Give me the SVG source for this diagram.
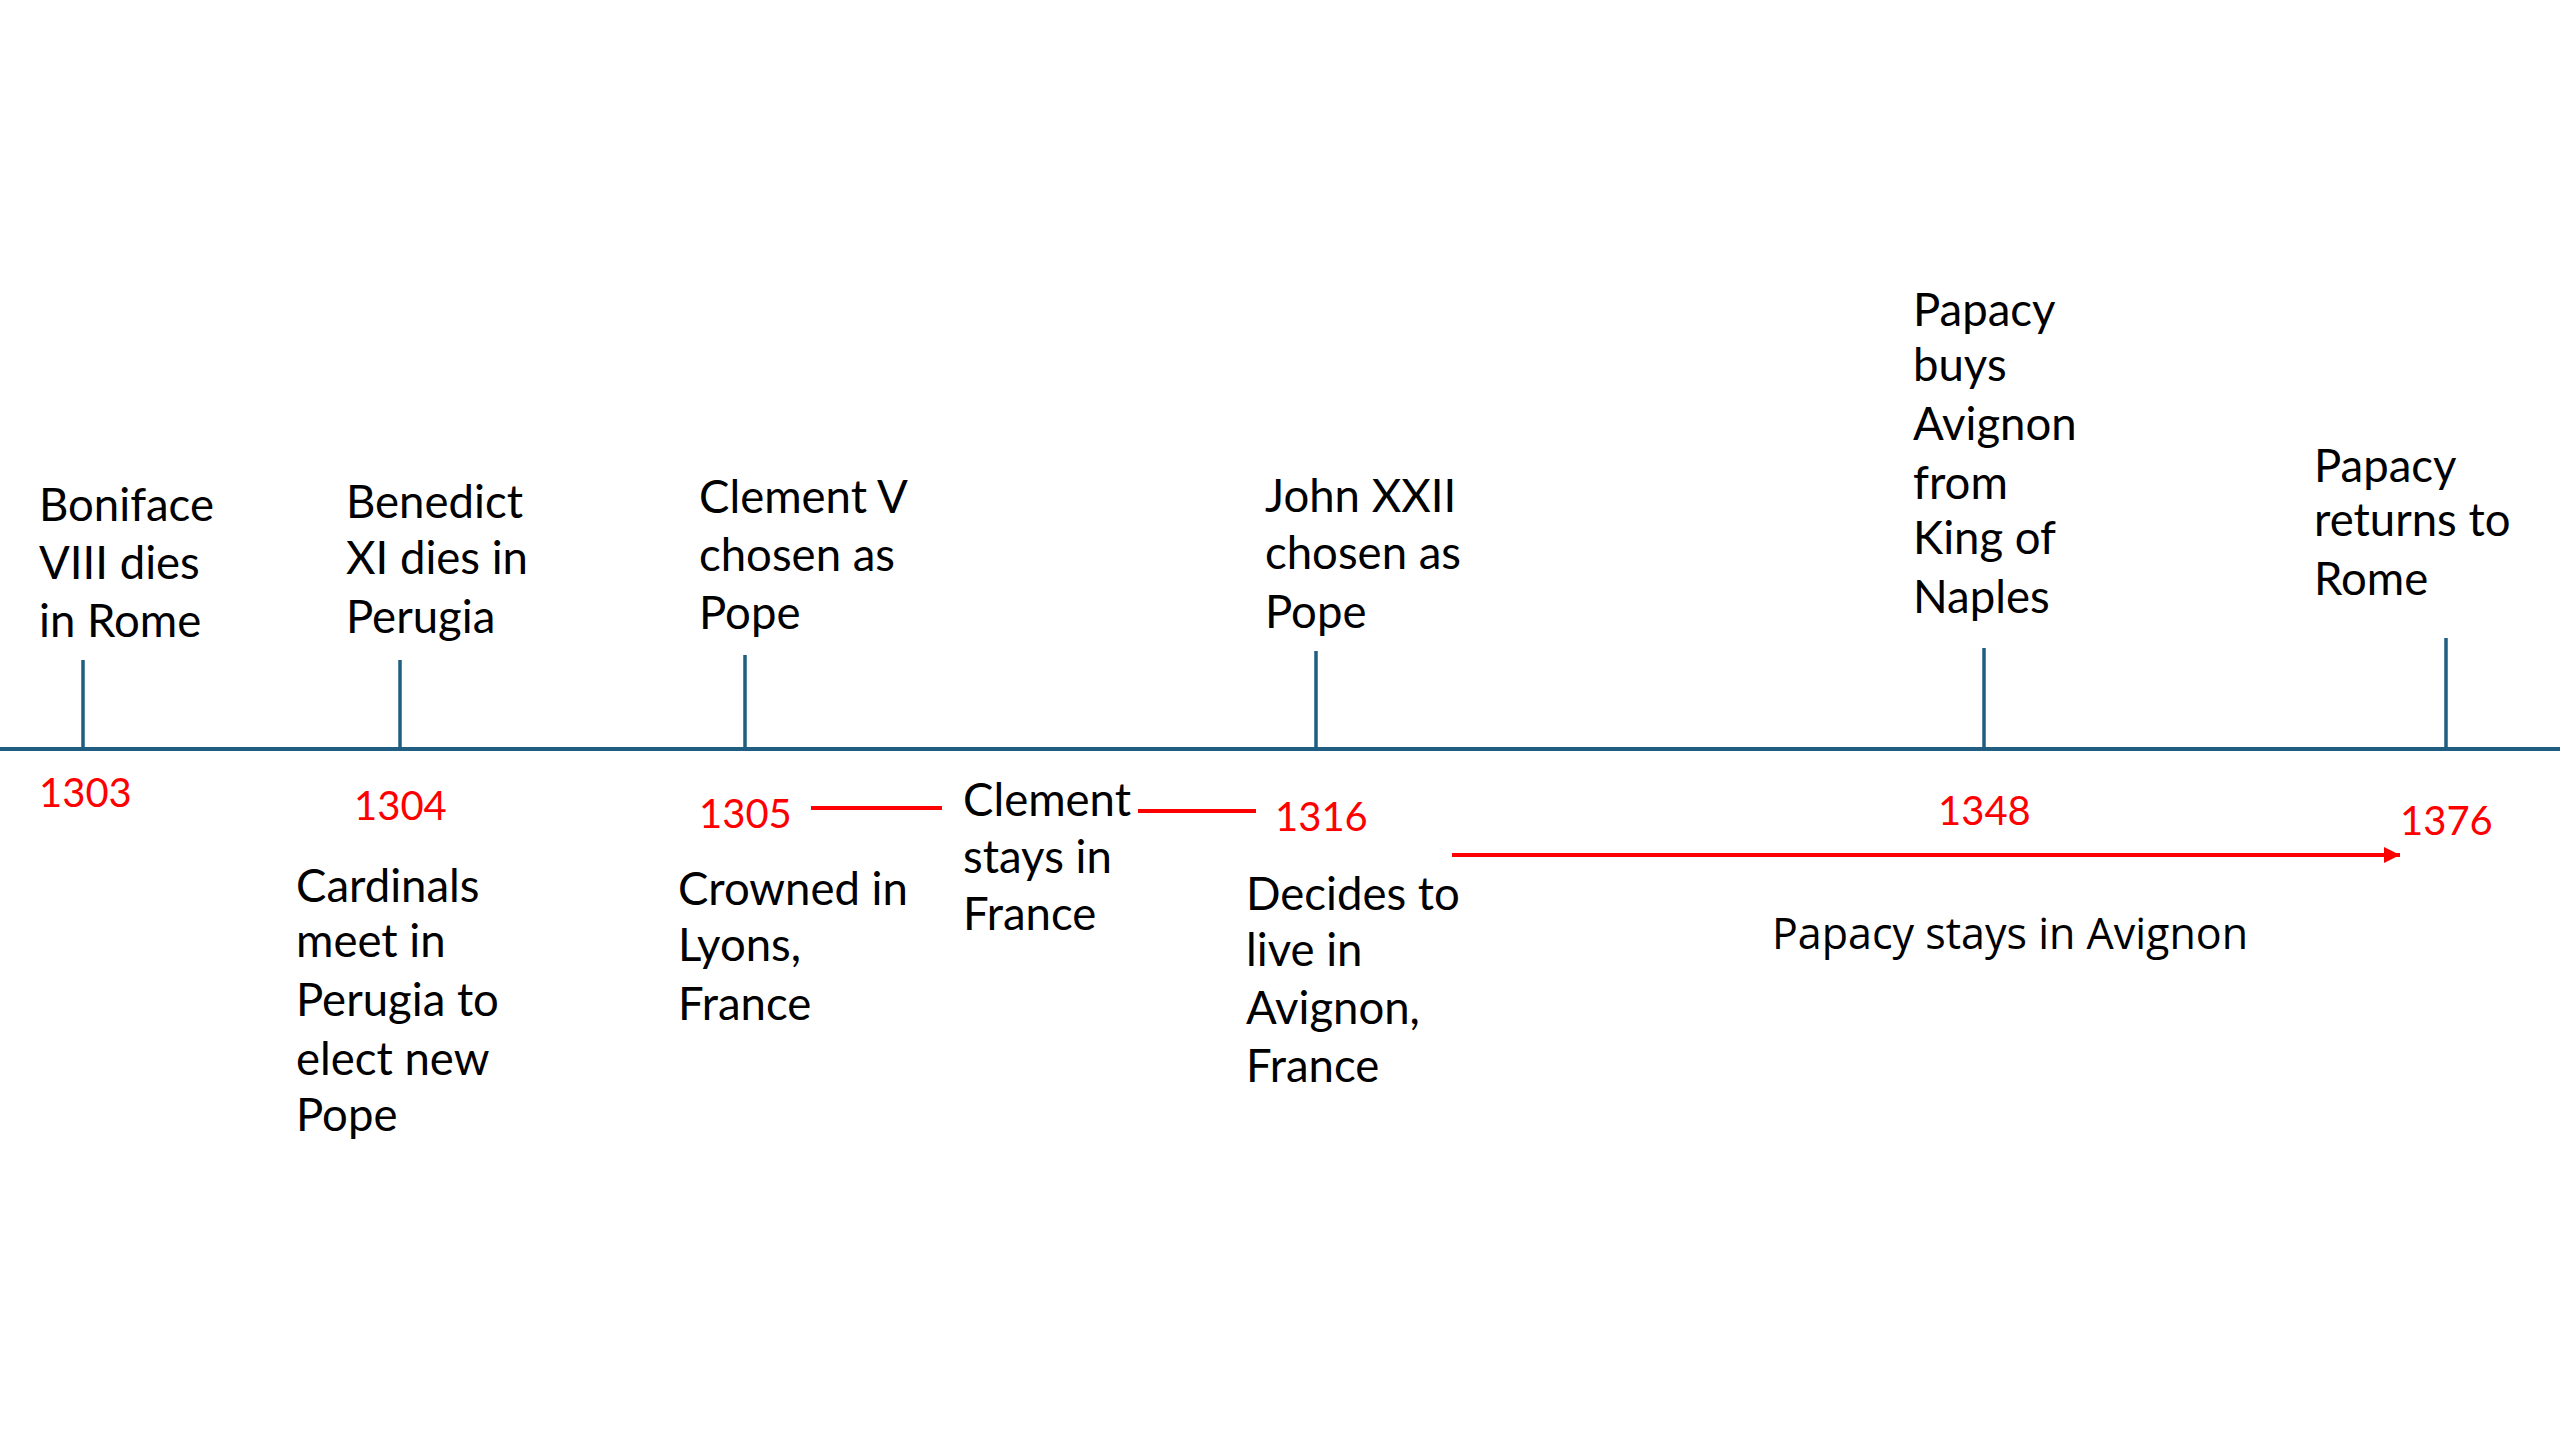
<svg xmlns="http://www.w3.org/2000/svg" width="2560" height="1440" viewBox="0 0 2560 1440">
<style>
.lbl{font-family:Lato,"Open Sans","Liberation Sans",sans-serif;font-size:45.5px;fill:#000}
.yr{font-family:Lato,"Open Sans","Liberation Sans",sans-serif;font-size:40px;fill:#FF0000}
.wide{font-family:"Open Sans","Noto Sans","Liberation Sans",sans-serif;font-size:43px;fill:#000}
.axis{stroke:#1F5E80;stroke-width:4;fill:none}
.tick{stroke:#1F5E80;stroke-width:3.5;fill:none}
.span{stroke:#FF0000;stroke-width:4;fill:none}
</style>
<defs>
<marker id="ah" viewBox="0 0 10 10" refX="10" refY="5" markerWidth="4" markerHeight="4" markerUnits="strokeWidth" orient="auto">
<path d="M0,0 L10,5 L0,10 Z" fill="#FF0000"/>
</marker>
</defs>
<rect width="2560" height="1440" fill="#fff"/>
<g id="connectors">
<line class="axis" x1="0" y1="749" x2="2560" y2="749"/>
<line class="tick" x1="83" y1="660" x2="83" y2="749"/>
<line class="tick" x1="400" y1="660" x2="400" y2="749"/>
<line class="tick" x1="745" y1="655" x2="745" y2="749"/>
<line class="tick" x1="1316" y1="651" x2="1316" y2="749"/>
<line class="tick" x1="1984" y1="648" x2="1984" y2="749"/>
<line class="tick" x1="2446" y1="638" x2="2446" y2="749"/>
<line class="span" x1="811" y1="808" x2="942" y2="808"/>
<line class="span" x1="1138" y1="811" x2="1256" y2="811"/>
<line class="span" x1="1452" y1="855" x2="2400" y2="855" marker-end="url(#ah)"/>
</g>
<g id="ev1303">
<text class="lbl" x="39" y="521">Boniface</text>
<text class="lbl" x="39" y="579">VIII dies</text>
<text class="lbl" x="39" y="637">in Rome</text>
<text class="yr" x="39" y="807">1303</text>
</g>
<g id="ev1304">
<text class="lbl" x="346" y="518">Benedict</text>
<text class="lbl" x="346" y="574">XI dies in</text>
<text class="lbl" x="346" y="633">Perugia</text>
<text class="yr" x="354" y="820">1304</text>
<text class="lbl" x="296" y="902">Cardinals</text>
<text class="lbl" x="296" y="957">meet in</text>
<text class="lbl" x="296" y="1016">Perugia to</text>
<text class="lbl" x="296" y="1075">elect new</text>
<text class="lbl" x="296" y="1131">Pope</text>
</g>
<g id="ev1305">
<text class="lbl" x="699" y="513">Clement V</text>
<text class="lbl" x="699" y="571">chosen as</text>
<text class="lbl" x="699" y="629">Pope</text>
<text class="yr" x="699" y="828">1305</text>
<text class="lbl" x="678" y="905">Crowned in</text>
<text class="lbl" x="678" y="961">Lyons,</text>
<text class="lbl" x="678" y="1020">France</text>
</g>
<g id="clementStays">
<text class="lbl" x="963" y="816">Clement</text>
<text class="lbl" x="963" y="873">stays in</text>
<text class="lbl" x="963" y="930">France</text>
</g>
<g id="ev1316">
<text class="lbl" x="1265" y="512">John XXII</text>
<text class="lbl" x="1265" y="569">chosen as</text>
<text class="lbl" x="1265" y="628">Pope</text>
<text class="yr" x="1275" y="831">1316</text>
<text class="lbl" x="1246" y="910">Decides to</text>
<text class="lbl" x="1246" y="966">live in</text>
<text class="lbl" x="1246" y="1024">Avignon,</text>
<text class="lbl" x="1246" y="1082">France</text>
</g>
<g id="ev1348">
<text class="lbl" x="1913" y="326">Papacy</text>
<text class="lbl" x="1913" y="381">buys</text>
<text class="lbl" x="1913" y="440">Avignon</text>
<text class="lbl" x="1913" y="499">from</text>
<text class="lbl" x="1913" y="554">King of</text>
<text class="lbl" x="1913" y="613">Naples</text>
<text class="yr" x="1938" y="825">1348</text>
</g>
<g id="avignonStay">
<text class="wide" x="1772" y="949">Papacy stays in Avignon</text>
</g>
<g id="ev1376">
<text class="lbl" x="2314" y="482">Papacy</text>
<text class="lbl" x="2314" y="536">returns to</text>
<text class="lbl" x="2314" y="595">Rome</text>
<text class="yr" x="2400" y="835">1376</text>
</g>
</svg>
